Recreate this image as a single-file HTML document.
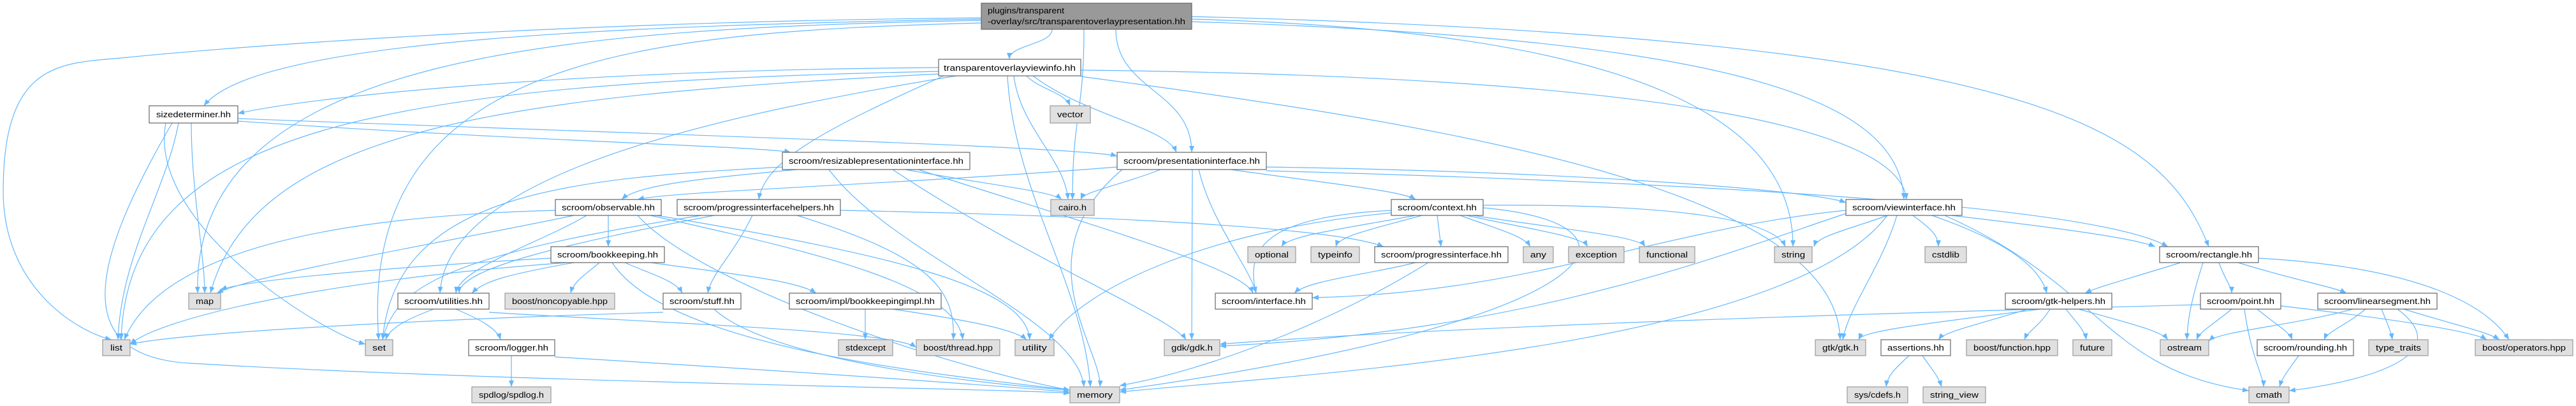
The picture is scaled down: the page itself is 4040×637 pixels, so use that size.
<!DOCTYPE html>
<html><head><meta charset="utf-8"><style>
html,body{margin:0;padding:0;background:#fff;}
svg{display:block;}
text{font-family:"Liberation Sans",sans-serif;font-size:13px;fill:#000;}
.w{fill:#fff;stroke:#666;stroke-width:1.2;}
.g{fill:#e0e0e0;stroke:#999;stroke-width:1.2;}
.r{fill:#999;stroke:#666;stroke-width:1.2;}
.e path{fill:none;stroke:#63b8ff;stroke-width:1.2;marker-end:url(#a);}
</style></head><body>
<svg width="4040" height="637" viewBox="0 0 4040 637" xmlns="http://www.w3.org/2000/svg">
<defs><marker id="a" markerUnits="userSpaceOnUse" markerWidth="10" markerHeight="8" refX="10" refY="4" orient="auto"><path d="M0,0 L10,4 L0,8 z" fill="#63b8ff"/></marker></defs>
<g class="e">
<path d="M1650 46 C1650 70 1583 70 1583 93"/>
<path d="M1700 46 C1700 180 1682 180 1682 313"/>
<path d="M1750 46 C1750 142 1869 142 1869 239"/>
<path d="M1539 30 C1000 40 400 60 320 166"/>
<path d="M1539 28 C800 35 300 80 200 90 C100 100 5 90 5 300 C5 450 120 520 175 533"/>
<path d="M1539 32 C900 45 300 80 310 460"/>
<path d="M1539 36 C1000 50 560 90 594 533"/>
<path d="M1869 30 C2600 50 2812 200 2812 387"/>
<path d="M1869 34 C2700 60 2980 150 2986 313"/>
<path d="M1869 26 C3200 60 3390 200 3464 387"/>
<path d="M1472 106 C900 110 500 150 373 178"/>
<path d="M1610 119 C1630 140 1670 145 1678 166"/>
<path d="M1590 119 C1600 200 1670 250 1675 313"/>
<path d="M1580 119 C1590 300 1700 450 1710 607"/>
<path d="M1620 119 C1700 180 1830 200 1845 239"/>
<path d="M1472 112 C600 130 200 200 190 533"/>
<path d="M1472 116 C800 150 400 200 330 460"/>
<path d="M1500 119 C1000 200 700 300 690 460"/>
<path d="M1480 119 C1300 200 1200 250 1190 313"/>
<path d="M1695 110 C2600 120 2980 200 2990 313"/>
<path d="M1695 120 C2300 200 2880 300 2886 533"/>
<path d="M373 190 C800 220 1200 230 1240 239"/>
<path d="M373 186 C1000 210 1700 230 1752 245"/>
<path d="M280 193 C260 300 190 400 185 533"/>
<path d="M300 193 C300 300 321 400 321 460"/>
<path d="M260 193 C230 350 500 520 573 540"/>
<path d="M270 193 C150 400 100 560 300 570 C800 600 1600 610 1678 617"/>
<path d="M1250 266 C1100 280 1000 290 975 313"/>
<path d="M1420 266 C1550 290 1650 300 1665 313"/>
<path d="M1400 266 C1600 400 1840 500 1860 533"/>
<path d="M1440 266 C1700 350 1950 420 1965 460"/>
<path d="M1227 262 C900 280 620 300 600 533"/>
<path d="M1300 266 C1400 400 1690 500 1700 607"/>
<path d="M1752 262 C1400 290 1050 300 1000 313"/>
<path d="M1820 266 C1760 290 1700 300 1695 313"/>
<path d="M1930 266 C2100 290 2200 300 2220 313"/>
<path d="M1986 262 C2500 270 2850 300 2895 318"/>
<path d="M1880 266 C1900 350 1960 420 1970 460"/>
<path d="M1870 266 C1870 400 1869 400 1869 533"/>
<path d="M1986 268 C2800 290 3300 330 3400 387"/>
<path d="M1760 266 C1600 400 1730 550 1725 607"/>
<path d="M954 338 L954 387"/>
<path d="M920 338 C850 380 720 420 715 460"/>
<path d="M900 338 C700 380 400 430 340 460"/>
<path d="M871 330 C500 340 250 400 195 533"/>
<path d="M1000 338 C1100 450 1500 580 1678 612"/>
<path d="M1020 338 C1300 400 1500 450 1510 533"/>
<path d="M1030 338 C1400 400 1610 450 1615 533"/>
<path d="M1318 330 C1800 340 2100 360 2170 387"/>
<path d="M1180 338 C1150 400 1115 430 1110 460"/>
<path d="M1120 338 C900 380 720 420 720 460"/>
<path d="M1100 338 C700 400 620 450 600 533"/>
<path d="M1250 338 C1450 400 1500 450 1495 533"/>
<path d="M864 405 C600 420 380 440 346 455"/>
<path d="M900 412 C800 430 760 440 740 460"/>
<path d="M940 412 C920 430 900 440 895 460"/>
<path d="M980 412 C1020 430 1060 440 1070 460"/>
<path d="M1020 412 C1150 430 1250 440 1280 460"/>
<path d="M890 412 C500 440 250 500 204 540"/>
<path d="M960 412 C1050 550 1500 590 1678 612"/>
<path d="M1357 485 L1357 533"/>
<path d="M1400 485 C1500 500 1590 515 1610 533"/>
<path d="M680 485 C640 500 610 515 605 533"/>
<path d="M715 485 C750 500 780 515 785 533"/>
<path d="M767 490 C1100 510 1400 520 1437 545"/>
<path d="M1040 490 C700 500 300 520 204 540"/>
<path d="M1120 485 C1200 560 1500 600 1678 612"/>
<path d="M802 558 L802 607"/>
<path d="M870 560 C1200 580 1500 600 1678 615"/>
<path d="M2220 338 C2100 360 2020 370 2010 387"/>
<path d="M2230 338 C2150 360 2100 370 2095 387"/>
<path d="M2254 338 L2260 387"/>
<path d="M2290 338 C2350 360 2390 370 2400 387"/>
<path d="M2300 338 C2400 360 2480 370 2490 387"/>
<path d="M2310 338 C2450 360 2570 370 2580 387"/>
<path d="M2182 330 C2000 340 1950 380 1970 460"/>
<path d="M2326 322 C2600 320 2780 340 2800 387"/>
<path d="M2326 326 C2600 350 2550 500 1756 612"/>
<path d="M2182 334 C1900 360 1700 450 1645 533"/>
<path d="M2220 412 C2150 430 2050 440 2030 460"/>
<path d="M2240 412 C2100 500 1900 580 1756 605"/>
<path d="M2960 338 C2900 360 2850 370 2845 387"/>
<path d="M3000 338 C3030 360 3040 370 3040 387"/>
<path d="M3060 338 C3250 360 3350 375 3380 387"/>
<path d="M3030 338 C3150 380 3200 420 3210 460"/>
<path d="M2975 338 C2950 420 2900 480 2890 533"/>
<path d="M3050 338 C3300 450 3300 580 3527 613"/>
<path d="M2960 338 C2800 550 2000 590 1756 615"/>
<path d="M2895 330 C2600 360 2400 460 2058 467"/>
<path d="M2895 335 C2700 400 2400 520 1913 543"/>
<path d="M3420 412 C3330 440 3290 450 3270 460"/>
<path d="M3480 412 C3490 440 3500 450 3500 460"/>
<path d="M3510 412 C3600 440 3660 450 3680 460"/>
<path d="M3455 412 C3440 460 3430 500 3430 533"/>
<path d="M3542 405 C3800 420 3900 480 3935 533"/>
<path d="M3200 485 C3000 510 2920 520 2915 533"/>
<path d="M3180 485 C3100 510 3050 520 3040 533"/>
<path d="M3215 485 C3200 510 3180 520 3175 533"/>
<path d="M3240 485 C3260 510 3270 520 3272 533"/>
<path d="M3260 485 C3350 510 3390 520 3400 533"/>
<path d="M3500 485 C3470 510 3450 520 3445 533"/>
<path d="M3520 485 C3530 560 3550 590 3550 607"/>
<path d="M3540 485 C3570 510 3590 520 3595 533"/>
<path d="M3577 480 C3750 500 3880 520 3900 533"/>
<path d="M3451 478 C3000 490 2300 510 1913 540"/>
<path d="M3690 485 C3600 510 3480 520 3464 535"/>
<path d="M3710 485 C3680 510 3650 520 3645 533"/>
<path d="M3735 485 C3745 510 3750 520 3752 533"/>
<path d="M3770 485 C3850 510 3900 520 3920 533"/>
<path d="M3760 485 C3860 560 3700 600 3590 613"/>
<path d="M3605 558 C3590 580 3580 590 3575 607"/>
<path d="M2994 558 C2970 580 2960 590 2958 607"/>
<path d="M3015 558 C3030 580 3040 590 3045 607"/>
</g>
<g>
<rect class="r" x="1539" y="5" width="330" height="41"/>
<text x="1549" y="21" textLength="120" lengthAdjust="spacingAndGlyphs">plugins/transparent</text>
<text x="1549" y="38" textLength="310" lengthAdjust="spacingAndGlyphs">-overlay/src/transparentoverlaypresentation.hh</text>

<rect class="w" x="1472" y="93" width="223" height="26"/><text x="1583.5" y="111" text-anchor="middle" textLength="207" lengthAdjust="spacingAndGlyphs">transparentoverlayviewinfo.hh</text>
<rect class="g" x="1647" y="166" width="63" height="27"/><text x="1678.5" y="184" text-anchor="middle" textLength="41" lengthAdjust="spacingAndGlyphs">vector</text>
<rect class="w" x="234" y="166" width="139" height="27"/><text x="303.5" y="184" text-anchor="middle" textLength="117" lengthAdjust="spacingAndGlyphs">sizedeterminer.hh</text>
<rect class="w" x="1227" y="239" width="294" height="27"/><text x="1374" y="257" text-anchor="middle" textLength="274" lengthAdjust="spacingAndGlyphs">scroom/resizablepresentationinterface.hh</text>
<rect class="w" x="1752" y="239" width="234" height="27"/><text x="1869" y="257" text-anchor="middle" textLength="214" lengthAdjust="spacingAndGlyphs">scroom/presentationinterface.hh</text>

<rect class="w" x="871" y="313" width="166" height="25"/><text x="954" y="330" text-anchor="middle" textLength="146" lengthAdjust="spacingAndGlyphs">scroom/observable.hh</text>
<rect class="w" x="1062" y="313" width="256" height="25"/><text x="1190" y="330" text-anchor="middle" textLength="236" lengthAdjust="spacingAndGlyphs">scroom/progressinterfacehelpers.hh</text>
<rect class="g" x="1648" y="313" width="68" height="25"/><text x="1682" y="330" text-anchor="middle" textLength="44" lengthAdjust="spacingAndGlyphs">cairo.h</text>
<rect class="w" x="2182" y="313" width="144" height="25"/><text x="2254" y="330" text-anchor="middle" textLength="124" lengthAdjust="spacingAndGlyphs">scroom/context.hh</text>
<rect class="w" x="2895" y="313" width="182" height="25"/><text x="2986" y="330" text-anchor="middle" textLength="162" lengthAdjust="spacingAndGlyphs">scroom/viewinterface.hh</text>

<rect class="w" x="864" y="387" width="178" height="25"/><text x="953" y="404" text-anchor="middle" textLength="158" lengthAdjust="spacingAndGlyphs">scroom/bookkeeping.hh</text>
<rect class="g" x="1957" y="387" width="75" height="25"/><text x="1994.5" y="404" text-anchor="middle" textLength="53" lengthAdjust="spacingAndGlyphs">optional</text>
<rect class="g" x="2056" y="387" width="76" height="25"/><text x="2094" y="404" text-anchor="middle" textLength="54" lengthAdjust="spacingAndGlyphs">typeinfo</text>
<rect class="w" x="2156" y="387" width="209" height="25"/><text x="2260.5" y="404" text-anchor="middle" textLength="189" lengthAdjust="spacingAndGlyphs">scroom/progressinterface.hh</text>
<rect class="g" x="2389" y="387" width="47" height="25"/><text x="2412.5" y="404" text-anchor="middle" textLength="25" lengthAdjust="spacingAndGlyphs">any</text>
<rect class="g" x="2460" y="387" width="87" height="25"/><text x="2503.5" y="404" text-anchor="middle" textLength="65" lengthAdjust="spacingAndGlyphs">exception</text>
<rect class="g" x="2571" y="387" width="87" height="25"/><text x="2614.5" y="404" text-anchor="middle" textLength="65" lengthAdjust="spacingAndGlyphs">functional</text>
<rect class="g" x="2783" y="387" width="59" height="25"/><text x="2812.5" y="404" text-anchor="middle" textLength="37" lengthAdjust="spacingAndGlyphs">string</text>
<rect class="g" x="3019" y="387" width="65" height="25"/><text x="3051.5" y="404" text-anchor="middle" textLength="43" lengthAdjust="spacingAndGlyphs">cstdlib</text>
<rect class="w" x="3387" y="387" width="155" height="25"/><text x="3464.5" y="404" text-anchor="middle" textLength="135" lengthAdjust="spacingAndGlyphs">scroom/rectangle.hh</text>

<rect class="g" x="296" y="460" width="50" height="25"/><text x="321" y="477" text-anchor="middle" textLength="28" lengthAdjust="spacingAndGlyphs">map</text>
<rect class="w" x="624" y="460" width="143" height="25"/><text x="695.5" y="477" text-anchor="middle" textLength="123" lengthAdjust="spacingAndGlyphs">scroom/utilities.hh</text>
<rect class="g" x="792" y="460" width="172" height="25"/><text x="878" y="477" text-anchor="middle" textLength="150" lengthAdjust="spacingAndGlyphs">boost/noncopyable.hpp</text>
<rect class="w" x="1040" y="460" width="122" height="25"/><text x="1101" y="477" text-anchor="middle" textLength="102" lengthAdjust="spacingAndGlyphs">scroom/stuff.hh</text>
<rect class="w" x="1238" y="460" width="238" height="25"/><text x="1357" y="477" text-anchor="middle" textLength="218" lengthAdjust="spacingAndGlyphs">scroom/impl/bookkeepingimpl.hh</text>
<rect class="w" x="1906" y="460" width="152" height="25"/><text x="1982" y="477" text-anchor="middle" textLength="132" lengthAdjust="spacingAndGlyphs">scroom/interface.hh</text>
<rect class="w" x="3145" y="460" width="167" height="25"/><text x="3228.5" y="477" text-anchor="middle" textLength="147" lengthAdjust="spacingAndGlyphs">scroom/gtk-helpers.hh</text>
<rect class="w" x="3451" y="460" width="126" height="25"/><text x="3514" y="477" text-anchor="middle" textLength="106" lengthAdjust="spacingAndGlyphs">scroom/point.hh</text>
<rect class="w" x="3635" y="460" width="187" height="25"/><text x="3728.5" y="477" text-anchor="middle" textLength="167" lengthAdjust="spacingAndGlyphs">scroom/linearsegment.hh</text>

<rect class="g" x="161" y="533" width="43" height="25"/><text x="182.5" y="550" text-anchor="middle" textLength="19" lengthAdjust="spacingAndGlyphs">list</text>
<rect class="g" x="573" y="533" width="43" height="25"/><text x="594.5" y="550" text-anchor="middle" textLength="21" lengthAdjust="spacingAndGlyphs">set</text>
<rect class="w" x="735" y="533" width="135" height="25"/><text x="802.5" y="550" text-anchor="middle" textLength="115" lengthAdjust="spacingAndGlyphs">scroom/logger.hh</text>
<rect class="g" x="1315" y="533" width="85" height="25"/><text x="1357.5" y="550" text-anchor="middle" textLength="63" lengthAdjust="spacingAndGlyphs">stdexcept</text>
<rect class="g" x="1437" y="533" width="131" height="25"/><text x="1502.5" y="550" text-anchor="middle" textLength="109" lengthAdjust="spacingAndGlyphs">boost/thread.hpp</text>
<rect class="g" x="1592" y="533" width="61" height="25"/><text x="1622.5" y="550" text-anchor="middle" textLength="39" lengthAdjust="spacingAndGlyphs">utility</text>
<rect class="g" x="1826" y="533" width="87" height="25"/><text x="1869.5" y="550" text-anchor="middle" textLength="65" lengthAdjust="spacingAndGlyphs">gdk/gdk.h</text>
<rect class="g" x="2847" y="533" width="79" height="25"/><text x="2886.5" y="550" text-anchor="middle" textLength="57" lengthAdjust="spacingAndGlyphs">gtk/gtk.h</text>
<rect class="w" x="2950" y="533" width="109" height="25"/><text x="3004.5" y="550" text-anchor="middle" textLength="89" lengthAdjust="spacingAndGlyphs">assertions.hh</text>
<rect class="g" x="3084" y="533" width="143" height="25"/><text x="3155.5" y="550" text-anchor="middle" textLength="121" lengthAdjust="spacingAndGlyphs">boost/function.hpp</text>
<rect class="g" x="3251" y="533" width="61" height="25"/><text x="3281.5" y="550" text-anchor="middle" textLength="39" lengthAdjust="spacingAndGlyphs">future</text>
<rect class="g" x="3388" y="533" width="76" height="25"/><text x="3426" y="550" text-anchor="middle" textLength="54" lengthAdjust="spacingAndGlyphs">ostream</text>
<rect class="w" x="3540" y="533" width="151" height="25"/><text x="3615.5" y="550" text-anchor="middle" textLength="131" lengthAdjust="spacingAndGlyphs">scroom/rounding.hh</text>
<rect class="g" x="3715" y="533" width="93" height="25"/><text x="3761.5" y="550" text-anchor="middle" textLength="71" lengthAdjust="spacingAndGlyphs">type_traits</text>
<rect class="g" x="3882" y="533" width="153" height="25"/><text x="3958.5" y="550" text-anchor="middle" textLength="131" lengthAdjust="spacingAndGlyphs">boost/operators.hpp</text>

<rect class="g" x="740" y="607" width="124" height="25"/><text x="802" y="624" text-anchor="middle" textLength="102" lengthAdjust="spacingAndGlyphs">spdlog/spdlog.h</text>
<rect class="g" x="1678" y="607" width="78" height="25"/><text x="1717" y="624" text-anchor="middle" textLength="56" lengthAdjust="spacingAndGlyphs">memory</text>
<rect class="g" x="2897" y="607" width="95" height="25"/><text x="2944.5" y="624" text-anchor="middle" textLength="73" lengthAdjust="spacingAndGlyphs">sys/cdefs.h</text>
<rect class="g" x="3016" y="607" width="98" height="25"/><text x="3065" y="624" text-anchor="middle" textLength="76" lengthAdjust="spacingAndGlyphs">string_view</text>
<rect class="g" x="3527" y="607" width="63" height="25"/><text x="3558.5" y="624" text-anchor="middle" textLength="41" lengthAdjust="spacingAndGlyphs">cmath</text>
</g>
</svg>
</body></html>
